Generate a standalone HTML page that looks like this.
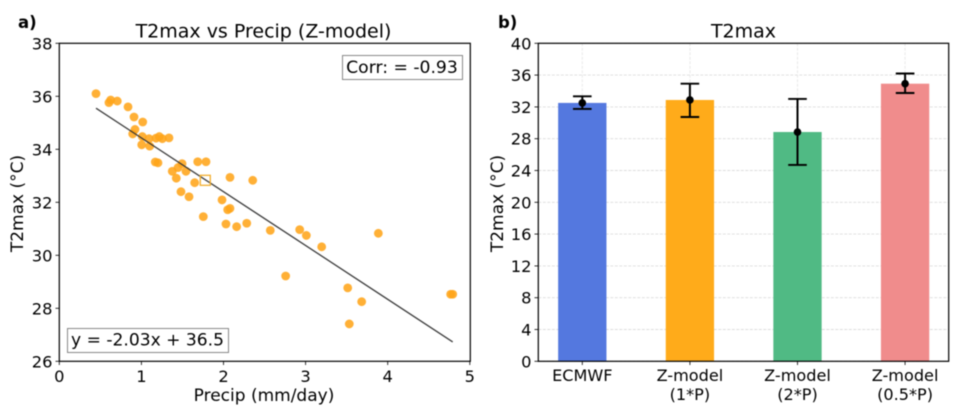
<!DOCTYPE html>
<html lang="en">
<head>
<meta charset="utf-8">
<title>T2max charts</title>
<style>
html,body{margin:0;padding:0;background:#fff;width:958px;height:413px;overflow:hidden}
svg{display:block;filter:blur(0.4px)}
text{font-family:"DejaVu Sans","Liberation Sans",sans-serif;fill:#000}
</style>
</head>
<body>
<svg id="figure" width="958" height="413" viewBox="0 0 958 413" xmlns="http://www.w3.org/2000/svg">
  <g id="panel-a">
    <text x="18" y="28" font-size="16.5" font-weight="bold">a)</text>
    <text x="263.5" y="37.5" font-size="19" text-anchor="middle">T2max vs Precip (Z-model)</text>
    <text x="264" y="401" font-size="17" text-anchor="middle">Precip (mm/day)</text>
    <text transform="translate(23,203.5) rotate(-90)" font-size="17" text-anchor="middle">T2max (°C)</text>
    <g id="a-marks"></g>
    <rect x="59.3" y="43.3" width="411" height="318" fill="none" stroke="#000" stroke-width="1.2"/>
    <g id="a-ticks"></g>
    <g>
      <rect x="342.5" y="55.5" width="120" height="24" fill="#fff" stroke="#888" stroke-width="1"/>
      <text x="402" y="72.8" font-size="17.2" text-anchor="middle">Corr: = -0.93</text>
    </g>
    <g>
      <rect x="67.5" y="328.5" width="161" height="24" fill="#fff" stroke="#888" stroke-width="1"/>
      <text x="147.5" y="345.5" font-size="17.1" text-anchor="middle">y = -2.03x + 36.5</text>
    </g>
  </g>
  <g id="panel-b">
    <text x="498" y="28" font-size="16.5" font-weight="bold">b)</text>
    <text x="743.5" y="37.5" font-size="19" text-anchor="middle">T2max</text>
    <text transform="translate(503,203.5) rotate(-90)" font-size="17" text-anchor="middle">T2max (°C)</text>
    <g id="b-grid"></g>
    <g id="b-bars"></g>
    <g id="b-errors"></g>
    <rect x="538.3" y="43.3" width="410.4" height="318" fill="none" stroke="#000" stroke-width="1.2"/>
    <g id="b-ticks"></g>
  </g>
</svg>
<script>
const precipValues = [0.447,0.605,0.626,0.706,0.837,0.910,1.016,0.922,0.894,1.011,1.093,1.004,1.101,1.178,1.218,1.255,1.336,1.169,1.202,1.376,1.446,1.495,1.543,1.425,1.482,1.580,1.649,1.686,1.787,2.079,1.982,2.051,2.079,1.754,2.030,2.160,2.283,2.570,2.928,3.009,3.196,2.757,3.886,3.513,3.683,3.532,4.767,4.792,2.356];
const t2maxValues = [36.10,35.76,35.86,35.82,35.60,35.22,35.03,34.75,34.58,34.48,34.40,34.17,34.12,34.42,34.48,34.40,34.43,33.52,33.49,33.17,33.31,33.46,33.17,32.91,32.40,32.21,32.74,33.53,33.53,32.94,32.09,31.72,31.77,31.46,31.18,31.08,31.21,30.94,30.97,30.75,30.32,29.22,30.83,28.77,28.25,27.41,28.53,28.53,32.83];
const meanPoint = [1.778, 32.83];
const fitSlope = -2.03;
const fitIntercept = 36.46;
const fitRange = [0.447, 4.792];
const scatterXTicks = [0,1,2,3,4,5];
const scatterYTicks = [26,28,30,32,34,36,38];

const barCategories = [["ECMWF"],["Z-model","(1*P)"],["Z-model","(2*P)"],["Z-model","(0.5*P)"]];
const barValues = [32.5,32.87,28.84,34.92];
const errorLow = [31.74,30.73,24.7,33.75];
const errorHigh = [33.33,34.92,33.0,36.2];
const barColors = ["#5478DF","#FFAB1A","#50BA84","#F08C8C"];
const barYTicks = [0,4,8,12,16,20,24,28,32,36,40];

const SVG_NS = "http://www.w3.org/2000/svg";
function make(tag, parentId, attrs, text) {
  const el = document.createElementNS(SVG_NS, tag);
  for (const k in attrs) el.setAttribute(k, attrs[k]);
  if (text !== undefined) el.textContent = text;
  document.getElementById(parentId).appendChild(el);
  return el;
}
const ax = v => 59.3 + 82.1 * v;
const ay = v => 361.3 - 26.5 * (v - 26);
const bx = i => 582.3 + 107.6 * i;
const by = v => 361.3 - 7.95 * v;
const BAR_W = 48.3;
const CAP = 9.3;

// Scatter points
precipValues.forEach((p, i) => {
  const c = make("circle", "a-marks", {cx: ax(p), cy: ay(t2maxValues[i]), r: 4.4, fill: "#FFA51A", "fill-opacity": 0.88});
  
  
});
const fitLine = make("line", "a-marks", {x1: ax(fitRange[0]), y1: ay(fitSlope * fitRange[0] + fitIntercept), x2: ax(fitRange[1]), y2: ay(fitSlope * fitRange[1] + fitIntercept), stroke: "#333", "stroke-opacity": 0.95, "stroke-width": 1.3});


const meanMark = make("rect", "a-marks", {x: ax(meanPoint[0]) - 5, y: ay(meanPoint[1]) - 5, width: 10, height: 10, fill: "none", stroke: "#F2AE2E", "stroke-width": 1.3});



// Scatter ticks
scatterXTicks.forEach(t => {
  const m = make("line", "a-ticks", {x1: ax(t), x2: ax(t), y1: 361.3, y2: 365, stroke: "#000", "stroke-width": 0.8});
  
  
  const l = make("text", "a-ticks", {x: ax(t), y: 382, "font-size": 16.3, "text-anchor": "middle"}, String(t));
  
  
});
scatterYTicks.forEach(t => {
  const m = make("line", "a-ticks", {x1: 55.5, x2: 59.3, y1: ay(t), y2: ay(t), stroke: "#000", "stroke-width": 0.8});
  
  
  const l = make("text", "a-ticks", {x: 52.5, y: ay(t) + 6, "font-size": 16.3, "text-anchor": "end"}, String(t));
  
  
});

// Bar grid
barYTicks.forEach(t => {
  const g = make("line", "b-grid", {x1: 538.3, x2: 948.7, y1: by(t), y2: by(t), stroke: "#dcdcdc", "stroke-width": 0.9, "stroke-dasharray": "3 1.5"});
  
  
  const m = make("line", "b-ticks", {x1: 534.5, x2: 538.3, y1: by(t), y2: by(t), stroke: "#000", "stroke-width": 0.8});
  
  
  const l = make("text", "b-ticks", {x: 531.5, y: by(t) + 6, "font-size": 16.3, "text-anchor": "end"}, String(t));
  
  
});

// Bars, error bars, category labels
barValues.forEach((v, i) => {
  const g = make("line", "b-grid", {x1: bx(i), x2: bx(i), y1: 43.3, y2: 361.3, stroke: "#e6e6e6", "stroke-width": 0.9, "stroke-dasharray": "3 1.5"});
  
  
  const b = make("rect", "b-bars", {x: bx(i) - BAR_W / 2, y: by(v), width: BAR_W, height: 361.3 - by(v), fill: barColors[i]});
  
  
  const stem = make("line", "b-errors", {x1: bx(i), x2: bx(i), y1: by(errorHigh[i]), y2: by(errorLow[i]), stroke: "#000", "stroke-width": 2});
  
  
  const capHigh = make("line", "b-errors", {x1: bx(i) - CAP, x2: bx(i) + CAP, y1: by(errorHigh[i]), y2: by(errorHigh[i]), stroke: "#000", "stroke-width": 1.9});
  
  
  const capLow = make("line", "b-errors", {x1: bx(i) - CAP, x2: bx(i) + CAP, y1: by(errorLow[i]), y2: by(errorLow[i]), stroke: "#000", "stroke-width": 1.9});
  
  
  const dot = make("circle", "b-errors", {cx: bx(i), cy: by(v), r: 3.8, fill: "#000"});
  
  
  const m = make("line", "b-ticks", {x1: bx(i), x2: bx(i), y1: 361.3, y2: 365, stroke: "#000", "stroke-width": 0.8});
  
  
  barCategories[i].forEach((line, j) => {
    const l = make("text", "b-ticks", {x: bx(i), y: 381 + j * 19, "font-size": 16.1, "text-anchor": "middle"}, line);
    
    
  });
});
</script>
</body>
</html>
